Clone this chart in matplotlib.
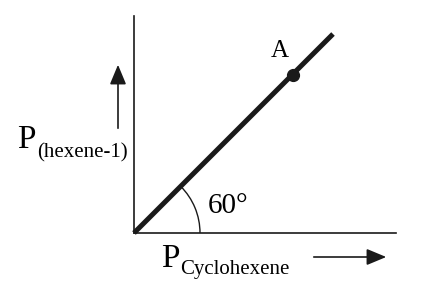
import numpy as np
import matplotlib.pyplot as plt
from matplotlib.patches import Arc

# Diagram geometry in picture pixels (origin top-left).
origin = [134, 233]
line_end = [333, 34]
point_A = [293, 75]
axis_top = 16
axis_right = 396
arc_radius = 66
angle_label = "60°"

y_label_main = "P"
y_label_sub = "(hexene-1)"
x_label_main = "P"
x_label_sub = "Cyclohexene"

plt.rcParams['font.family'] = ['Liberation Serif', 'DejaVu Serif']

fig = plt.figure(figsize=(4.23, 2.95), dpi=100)
ax = fig.add_axes([0, 0, 1, 1])
ax.set_xlim(0, 423)
ax.set_ylim(295, 0)
ax.axis('off')

ink = '#1a1a1a'

# Axes
ax.plot([origin[0], origin[0]], [origin[1], axis_top], color=ink, lw=1.2)
ax.plot([origin[0], axis_right], [origin[1], origin[1]], color=ink, lw=1.2)

# Main line and point A
ax.plot([origin[0], line_end[0]], [origin[1], line_end[1]], color=ink,
        lw=3.6, solid_capstyle='butt')
ax.plot(point_A[0], point_A[1], 'o', color=ink, ms=8.5)
ax.text(280, 57, "A", fontsize=18, ha='center', va='baseline')

# Angle arc (y axis is flipped, so angles go clockwise)
theta = np.degrees(np.arctan2(line_end[1] - origin[1], line_end[0] - origin[0]))
ax.add_patch(Arc(origin, 2 * arc_radius, 2 * arc_radius, theta1=theta, theta2=0,
                 color=ink, lw=1.0))
ax.text(208, 213, angle_label, fontsize=21, ha='left', va='baseline')

# Arrows
arrow = dict(arrowstyle='-|>,head_length=1.2,head_width=0.5', color=ink, lw=1.2)
ax.annotate("", xy=(118, 62), xytext=(118, 131), arrowprops=arrow)
ax.annotate("", xy=(389, 257), xytext=(311, 257), arrowprops=arrow)

# Labels
ax.text(17, 148, y_label_main, fontsize=24, ha='left', va='baseline')
ax.text(37, 157, y_label_sub, fontsize=15, ha='left', va='baseline')
ax.text(161, 267, x_label_main, fontsize=24, ha='left', va='baseline')
ax.text(180, 274, x_label_sub, fontsize=15, ha='left', va='baseline')

fig.savefig("out.png", dpi=100, facecolor='white')
